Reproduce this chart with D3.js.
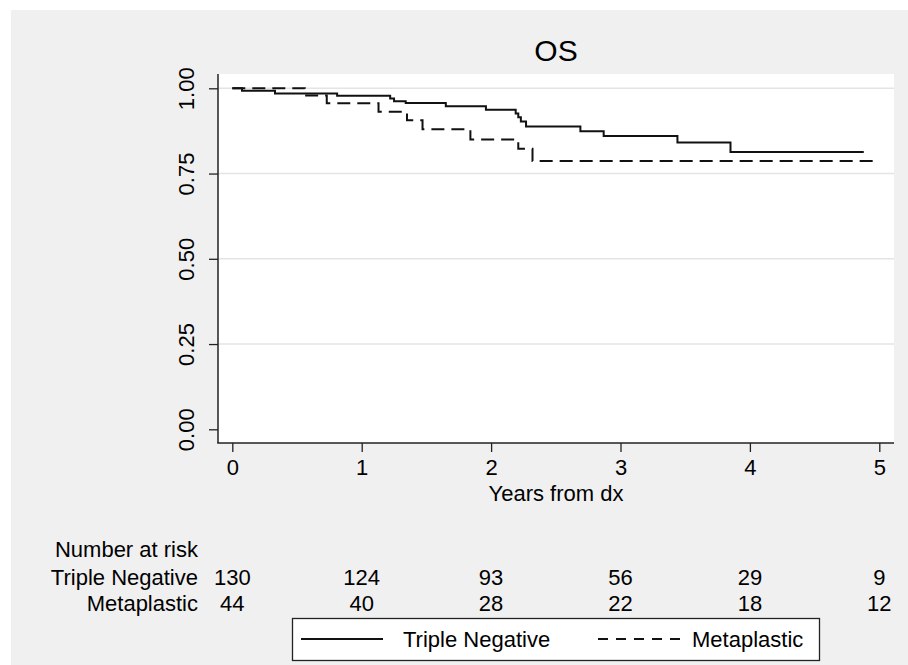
<!DOCTYPE html>
<html>
<head>
<meta charset="utf-8">
<script src="https://cdn.jsdelivr.net/npm/d3@7"></script>
<style>
  body { margin: 0; background: #fff; }
  text { font-family: "Liberation Sans", Arial, sans-serif; fill: #000; }
</style>
</head>
<body>
<div id="chart_container"></div>
<script>
const BG_COLOR = "#f0f0f0";
const GRID_COLOR = "#e4e4e4";

// Kaplan-Meier steps
const tnTimes = [0, 0.075, 0.33, 0.81, 1.22, 1.25, 1.34, 1.65, 1.96, 2.19, 2.21, 2.23, 2.27, 2.69, 2.87, 3.44, 3.85, 4.88];
const tnSurv = [1, 0.993, 0.985, 0.978, 0.970, 0.962, 0.957, 0.947, 0.937, 0.926, 0.915, 0.903, 0.888, 0.874, 0.860, 0.841, 0.813, 0.813];
const mpTimes = [0, 0.56, 0.73, 1.13, 1.35, 1.47, 1.84, 2.21, 2.32, 4.99];
const mpSurv = [1, 0.979, 0.956, 0.931, 0.906, 0.880, 0.850, 0.823, 0.787, 0.787];

const xTicks = [0, 1, 2, 3, 4, 5];
const yTicks = [0, 0.25, 0.5, 0.75, 1];
const gridTicks = [0.25, 0.5, 0.75, 1];

const groups = ["Triple Negative", "Metaplastic"];
const tnAtRisk = [130, 124, 93, 56, 29, 9];
const mpAtRisk = [44, 40, 28, 22, 18, 12];

let width = 908;
let height = 665;

let svg = d3
  .select("#chart_container")
  .append("svg")
  .attr("width", width)
  .attr("height", height);

svg.append("rect")
  .attr("x", 11).attr("y", 10)
  .attr("width", width - 11).attr("height", height - 10)
  .attr("fill", BG_COLOR);

let plot = { left: 218, right: 894, top: 74, bottom: 443 };

let x = d3.scaleLinear().domain([0, 5]).range([232.3, 879.3]);
let y = d3.scaleLinear().domain([0, 1]).range([429.3, 88.3]);

// plot region
svg.append("rect")
  .attr("x", plot.left).attr("y", plot.top)
  .attr("width", plot.right - plot.left).attr("height", plot.bottom - plot.top)
  .attr("fill", "#fff");

svg.append("g")
  .selectAll("line")
  .data(gridTicks)
  .join("line")
  .attr("x1", plot.left).attr("x2", plot.right)
  .attr("y1", (d) => y(d)).attr("y2", (d) => y(d))
  .attr("stroke", GRID_COLOR)
  .attr("stroke-width", 1.5);

// axes
let xAxis = svg.append("g")
  .attr("transform", `translate(0,${plot.bottom})`)
  .call(d3.axisBottom(x).tickValues(xTicks).tickSize(9).tickSizeOuter(0).tickFormat(d3.format("d")));
xAxis.select(".domain").remove();
xAxis.selectAll("line").attr("stroke", "#222").attr("stroke-width", 1.3);
xAxis.selectAll("text")
  .attr("y", 32).attr("dy", null)
  .attr("font-size", "22px")
  .attr("fill", "#000");

let yAxis = svg.append("g")
  .attr("transform", `translate(${plot.left},0)`)
  .call(d3.axisLeft(y).tickValues(yTicks).tickSize(9).tickSizeOuter(0).tickFormat(d3.format(".2f")));
yAxis.select(".domain").remove();
yAxis.selectAll("line").attr("stroke", "#222").attr("stroke-width", 1.3);
yAxis.selectAll("text")
  .attr("x", null).attr("dy", null)
  .attr("transform", "translate(-24,0) rotate(-90)")
  .attr("text-anchor", "middle")
  .attr("font-size", "22px")
  .attr("fill", "#000");

svg.append("line")
  .attr("x1", plot.left).attr("x2", plot.left)
  .attr("y1", plot.top).attr("y2", plot.bottom)
  .attr("stroke", "#222").attr("stroke-width", 1.5);
svg.append("line")
  .attr("x1", plot.left - 0.75).attr("x2", plot.right)
  .attr("y1", plot.bottom).attr("y2", plot.bottom)
  .attr("stroke", "#222").attr("stroke-width", 1.5);

// curves
let line = d3.line()
  .x((d) => x(d[0]))
  .y((d) => y(d[1]))
  .curve(d3.curveStepAfter);

svg.append("path")
  .datum(d3.zip(mpTimes, mpSurv))
  .attr("d", line)
  .attr("fill", "none")
  .attr("stroke", "#111")
  .attr("stroke-width", 2)
  .attr("stroke-dasharray", "13,7");

svg.append("path")
  .datum(d3.zip(tnTimes, tnSurv))
  .attr("d", line)
  .attr("fill", "none")
  .attr("stroke", "#111")
  .attr("stroke-width", 2);

// titles
svg.append("text")
  .text("OS")
  .attr("x", 556).attr("y", 61)
  .attr("text-anchor", "middle")
  .attr("font-size", "30px");

svg.append("text")
  .text("Years from dx")
  .attr("x", 556).attr("y", 501)
  .attr("text-anchor", "middle")
  .attr("font-size", "22px");

// number at risk table
let labelX = 198;
svg.append("text")
  .text("Number at risk")
  .attr("x", labelX).attr("y", 557)
  .attr("text-anchor", "end")
  .attr("font-size", "22px");

let rows = [tnAtRisk, mpAtRisk];
let rowY = [585, 611];
rows.forEach(function (vals, i) {
  svg.append("text")
    .text(groups[i])
    .attr("x", labelX).attr("y", rowY[i])
    .attr("text-anchor", "end")
    .attr("font-size", "22px");
  svg.append("g")
    .selectAll("text")
    .data(vals)
    .join("text")
    .text((d) => d)
    .attr("x", (d, j) => x(xTicks[j]))
    .attr("y", rowY[i])
    .attr("text-anchor", "middle")
    .attr("font-size", "22px");
});

// legend
let lg = svg.append("g");
lg.append("rect")
  .attr("x", 292.5).attr("y", 618.5)
  .attr("width", 527).attr("height", 42)
  .attr("fill", "#fff")
  .attr("stroke", "#222")
  .attr("stroke-width", 1.3);

let keyX = [301, 598];
let keyTextX = [403, 692];
let keyDash = [null, "10,8"];
groups.forEach(function (g, i) {
  lg.append("line")
    .attr("x1", keyX[i]).attr("x2", keyX[i] + 82)
    .attr("y1", 639).attr("y2", 639)
    .attr("stroke", "#111")
    .attr("stroke-width", 2)
    .attr("stroke-dasharray", keyDash[i]);
  lg.append("text")
    .text(g)
    .attr("x", keyTextX[i]).attr("y", 647)
    .attr("font-size", "22px");
});
</script>
</body>
</html>
